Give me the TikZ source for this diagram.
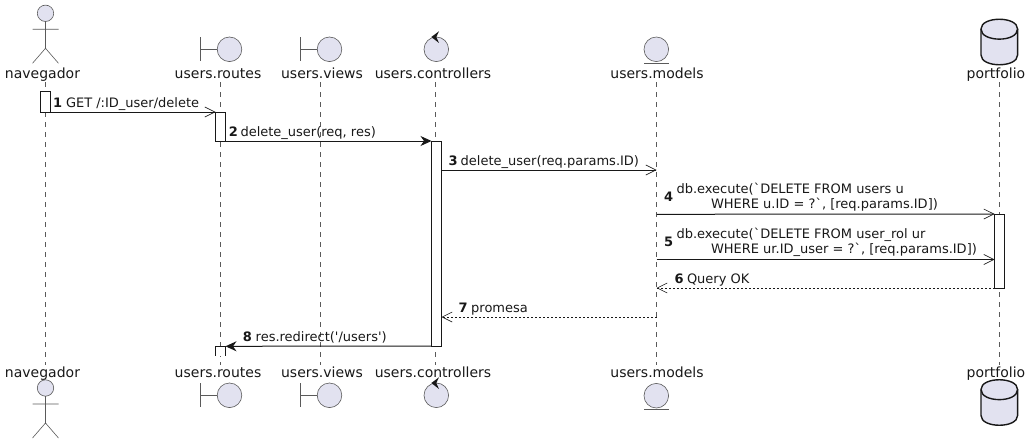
\documentclass[tikz,border=0pt]{standalone}
\usepackage{fontspec}
\newfontfamily\plainfont{DejaVu Sans}
\usetikzlibrary{arrows.meta}
\definecolor{partfill}{HTML}{E2E2F0}
\definecolor{ink}{HTML}{181818}
\definecolor{iconline}{HTML}{5A5A5A}
\tikzset{
  x=1pt,y=-1pt,
  lifeline/.style={draw=iconline,line width=.6pt,dash pattern=on 5pt off 5pt},
  partname/.style={inner sep=0pt,outer sep=0pt,anchor=base,font=\plainfont\fontsize{14}{16}\selectfont,text=ink},
  msgtext/.style={inner sep=0pt,outer sep=0pt,anchor=base west,font=\plainfont\fontsize{13}{15}\selectfont,text=ink},
  msgnum/.style={inner sep=0pt,outer sep=0pt,anchor=base west,font=\plainfont\fontsize{13}{15}\selectfont\bfseries,text=ink},
  activation/.style={draw=ink,fill=white,line width=1pt,minimum width=10pt,inner sep=0pt,outer sep=0pt},
  icon/.style={draw=iconline,line width=.6pt,fill=partfill},
  iconbar/.style={draw=iconline,line width=.6pt},
  dbicon/.style={draw=ink,line width=1.4pt,fill=partfill},
  openmsg/.style={draw=ink,line width=1pt,-{Straight Barb[length=10pt,width=10pt,line width=.6pt]}},
  filledmsg/.style={draw=ink,line width=1pt,-{Stealth[length=11pt,width=10pt,inset=3.5pt]}},
  dashedopen/.style={openmsg,dash pattern=on 2pt off 2pt},
}
\newcommand{\boundaryicon}[2]{%
  \draw[iconbar] (#1-29,#2-12) -- (#1-29,#2+12) (#1-29,#2) -- (#1-12,#2);
  \draw[icon] (#1,#2) circle[radius=12.3];}
\newcommand{\controlicon}[2]{%
  \draw[icon] (#1,#2) circle[radius=12.3];
  \fill[ink] (#1+2.7,#2-18) -- (#1-5,#2-12.3) -- (#1+2.7,#2-6.3) -- (#1,#2-12.3) -- cycle;}
\newcommand{\entityicon}[2]{%
  \draw[icon] (#1,#2) circle[radius=12.3];
  \draw[iconbar] (#1-12.3,#2+13.7) -- (#1+12.3,#2+13.7);}
\newcommand{\actoricon}[2]{%
  \draw[icon] (#1,#2) circle[radius=8.2];
  \draw[iconbar] (#1,#2+8.2) -- (#1,#2+35) (#1-13,#2+16) -- (#1+13,#2+16)
     (#1-13,#2+50) -- (#1,#2+35) -- (#1+13,#2+50);}
\newcommand{\dbicon}[2]{%
  \draw[dbicon] (#1-18.3,#2+10) .. controls (#1-18.3,#2-3) and (#1+18.3,#2-3) .. (#1+18.3,#2+10)
     -- (#1+18.3,#2+36) .. controls (#1+18.3,#2+49) and (#1-18.3,#2+49) .. (#1-18.3,#2+36) -- cycle;
  \draw[dbicon,fill=none] (#1-18.3,#2+10) .. controls (#1-18.3,#2+23.5) and (#1+18.3,#2+23.5) .. (#1+18.3,#2+10);}
\begin{document}
\begin{tikzpicture}
\useasboundingbox (0,0) rectangle (1033,444);
% lifelines
\foreach \n/\xx in {nav/45.5,rou/220.5,vie/320.5,con/435.5,mod/656.5,por/999.5}{
  \coordinate (\n top) at (\xx,82);
  \coordinate (\n bot) at (\xx,365);
  \path[lifeline] (\n top) -- (\n bot);
}
% participants
\actoricon{45.5}{13.3}
\boundaryicon{229.5}{49.3}
\boundaryicon{329.5}{49.3}
\controlicon{436.3}{49.3}
\entityicon{656.3}{49.3}
\dbicon{999.3}{19}
\node[partname] (navT) at (42.5,78) {navegador};
\node[partname] (rouT) at (218,78) {users.routes};
\node[partname] (vieT) at (322,78) {users.views};
\node[partname] (conT) at (433,78) {users.controllers};
\node[partname] (modT) at (657,78) {users.models};
\node[partname] (porT) at (996,78) {portfolio};
\actoricon{45.5}{388}
\boundaryicon{229.5}{395.3}
\boundaryicon{329.5}{395.3}
\controlicon{436.3}{395.3}
\entityicon{656.3}{395.7}
\dbicon{999.3}{379.5}
\node[partname] (navB) at (42.5,377) {navegador};
\node[partname] (rouB) at (218,377) {users.routes};
\node[partname] (vieB) at (322,377) {users.views};
\node[partname] (conB) at (433,377) {users.controllers};
\node[partname] (modB) at (657,377) {users.models};
\node[partname] (porB) at (996,377) {portfolio};
% activations
\node[activation,minimum height=21pt] (a1) at (45.5,101.5) {};
\node[activation,minimum height=29pt] (a2) at (220.5,126.5) {};
\node[activation,minimum height=205pt] (a3) at (436.5,243.5) {};
\node[activation,minimum height=74pt] (a4) at (999.5,251) {};
\path[fill=white] (215.5,346) rectangle (225.5,356);
\coordinate (a5nw) at (215.5,346.3);
\coordinate (a5ne) at (225.5,346.3);
\draw[draw=ink,line width=1pt] ([yshift=-9.5pt]a5nw) -- (a5nw) -- (a5ne) -- ([yshift=-9.5pt]a5ne);
% message ends on lifelines
\coordinate (m3) at (656.5,170);
\coordinate (m4) at (656.5,214.3);
\coordinate (m5) at (656.5,259.5);
\coordinate (m6) at (656.5,288);
\coordinate (m7) at (656.5,317);
\coordinate (a4w5) at (a4.west |- m5);
\coordinate (a3e3) at (a3.east |- m3);
\coordinate (a3e7) at (a3.east |- m7);
% messages
\draw[openmsg] (a1.south east) -- (a2.north west);
\draw[filledmsg] (a2.south east) -- (a3.north west);
\draw[openmsg] (a3e3) -- (m3);
\draw[openmsg] (m4) -- (a4.north west);
\draw[openmsg] (m5) -- (a4w5);
\draw[dashedopen] (a4.south west) -- (m6);
\draw[dashedopen] (m7) -- (a3e7);
\draw[filledmsg] (a3.south west) -- (a5ne);
% labels
\node[msgnum] (n1) at (53,107) {1};
\node[msgtext] (t1) at (66,107) {GET /:ID\_user/delete};
\node[msgnum] (n2) at (228.8,136) {2};
\node[msgtext] (t2) at (240.5,136) {delete\_user(req, res)};
\node[msgnum] (n3) at (448.7,165) {3};
\node[msgtext] (t3) at (460.7,165) {delete\_user(req.params.ID)};
\node[msgnum] (n4) at (664,201) {4};
\node[msgtext] (t4a) at (676.5,193) {db.execute(`DELETE FROM users u};
\node[msgtext] (t4b) at (711,208) {WHERE u.ID = ?`, [req.params.ID])};
\node[msgnum] (n5) at (664,246) {5};
\node[msgtext] (t5a) at (676.5,238) {db.execute(`DELETE FROM user\_rol ur};
\node[msgtext] (t5b) at (711,253) {WHERE ur.ID\_user = ?`, [req.params.ID])};
\node[msgnum] (n6) at (674.5,283) {6};
\node[msgtext] (t6) at (687,283) {Query OK};
\node[msgnum] (n7) at (458.5,312) {7};
\node[msgtext] (t7) at (471.2,312) {promesa};
\node[msgnum] (n8) at (242.8,341) {8};
\node[msgtext] (t8) at (255.7,341) {res.redirect('/users')};
\end{tikzpicture}
\end{document}
